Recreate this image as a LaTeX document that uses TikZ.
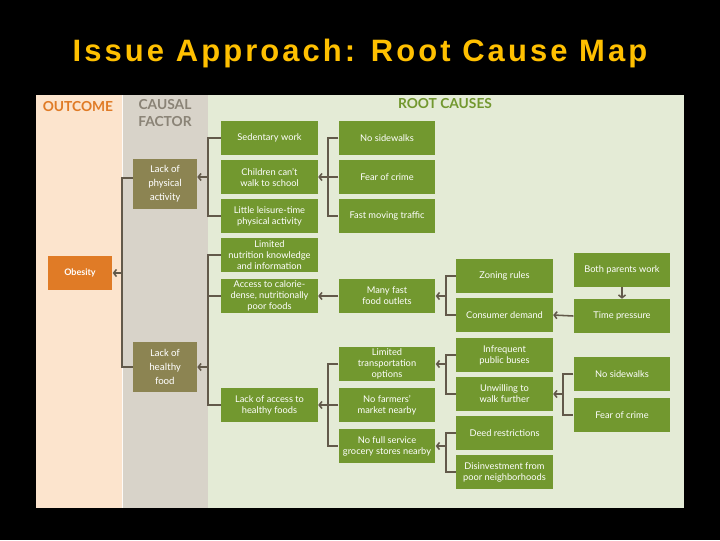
\documentclass[tikz,border=0pt]{standalone}
\usepackage{fontspec}
\setmainfont{Lato}
\newfontfamily\titlefont[LetterSpace=10]{Liberation Sans}
\newfontfamily\factorfont{Carlito}
\usetikzlibrary{arrows.meta, positioning}
\definecolor{cTitle}{HTML}{FFC000}
\definecolor{cPeach}{HTML}{FCE4CD}
\definecolor{cStone}{HTML}{D8D3C9}
\definecolor{cMint}{HTML}{E4EBD6}
\definecolor{cOrange}{HTML}{E07B26}
\definecolor{cGreyText}{HTML}{8A8376}
\definecolor{cLeaf}{HTML}{72982F}
\definecolor{cOlive}{HTML}{8C8452}
\definecolor{cLine}{HTML}{62594A}

\begin{document}
\begin{tikzpicture}[
    x=0.025cm, y=-0.025cm,
    % ---------------------------------------------------------
    % STYLES
    % ---------------------------------------------------------
    cause/.style={
        rectangle,
        fill=cLeaf,
        text=white,
        font=\fontsize{6.6}{7.8}\selectfont,
        align=center,
        minimum width=2.42cm,
        minimum height=0.85cm,
        inner sep=1pt
    },
    factor/.style={
        rectangle,
        fill=cOlive,
        text=white,
        font=\factorfont\fontsize{7.4}{10}\selectfont,
        align=center,
        minimum width=1.6cm,
        minimum height=1.27cm,
        inner sep=1pt
    },
    outcome/.style={
        rectangle,
        fill=cOrange,
        text=white,
        font=\bfseries\fontsize{6.4}{8}\selectfont,
        minimum width=1.62cm,
        minimum height=0.85cm
    },
    head/.style={
        text=#1,
        font=\bfseries\fontsize{9.8}{12.2}\selectfont,
        align=center,
        inner sep=0pt
    },
    link/.style={
        draw=cLine,
        line width=1.1pt
    },
    arr/.style={
        link,
        -{Straight Barb[length=2pt, width=5pt]}
    }
]

% ---------------------------------------------------------
% 1. BACKGROUND AND TITLE
% ---------------------------------------------------------
\fill[black] (0,0) rectangle (720,540);
\useasboundingbox (0,0) rectangle (720,540);
\fill[cPeach] (36,95) rectangle (122,508);
\fill[cStone] (122,95) rectangle (208,508);
\fill[cMint] (208,95) rectangle (684,508);
\draw[white!85!cPeach, line width=0.6pt] (122,95) -- (122,508);

\node[text=cTitle, font=\titlefont\bfseries\fontsize{22}{26}\selectfont] (title) at (360,53) {Issue Approach: Root Cause Map};

\node[head=cOrange] (hOut) at (78,107) {OUTCOME};
\node[head=cGreyText] (hFactor) at (165,113) {CAUSAL\\FACTOR};
\node[head=cLeaf] (hRoot) at (445,104) {ROOT CAUSES};

% ---------------------------------------------------------
% 2. COORDINATES (bracket spines)
% ---------------------------------------------------------
\coordinate (bObes) at (122,273);
\coordinate (bObesTop) at (122,178);
\coordinate (bPhys) at (208,177);
\coordinate (bHealthy) at (208,367);
\coordinate (bChild) at (328,177);
\coordinate (bAccess) at (328,405);
\coordinate (bFast) at (446,296);
\coordinate (bTransp) at (446,364);
\coordinate (bGrocery) at (446,446);
\coordinate (bWalk) at (563,394);

% ---------------------------------------------------------
% 3. NODES
% ---------------------------------------------------------
% Outcome and causal factors
\node[outcome] (obesity) at (80,273) {Obesity};
\node[factor] (phys) at (165,184) {Lack of\\physical\\activity};
\node[factor] (healthy) at (165,367) {Lack of\\healthy\\food};

% Root causes, first column
\node[cause] (sed) at (269.5,138) {Sedentary work};
\node[cause] (child) at (269.5,177) {Children can’t\\walk to school};
\node[cause] (leis) at (269.5,216) {Little leisure-time\\physical activity};
\node[cause] (nutri) at (269.5,255) {Limited\\nutrition knowledge\\and information};
\node[cause] (access) at (269.5,296) {Access to calorie-\\dense, nutritionally\\poor foods};
\node[cause] (lackacc) at (269.5,405) {Lack of access to\\healthy foods};

% Root causes, second column
\node[cause] (nosw) at (387,138) {No sidewalks};
\node[cause] (fear) at (387,177) {Fear of crime};
\node[cause] (traffic) at (387,216) {Fast moving traffic};
\node[cause] (fastfood) at (387,296) {Many fast\\food outlets};
\node[cause] (transp) at (387,364) {Limited\\transportation\\options};
\node[cause] (farmers) at (387,405) {No farmers’\\market nearby};
\node[cause] (grocery) at (387,446) {No full service\\grocery stores nearby};

% Root causes, third column
\node[cause] (zoning) at (504.5,276) {Zoning rules};
\node[cause] (demand) at (504.5,315) {Consumer demand};
\node[cause] (buses) at (504.5,355) {Infrequent\\public buses};
\node[cause] (unwill) at (504.5,394) {Unwilling to\\walk further};
\node[cause] (deed) at (504.5,433) {Deed restrictions};
\node[cause] (disinv) at (504.5,472) {Disinvestment from\\poor neighborhoods};

% Root causes, fourth column
\node[cause] (parents) at (622,270) {Both parents work};
\node[cause] (time) at (622,316) {Time pressure};
\node[cause] (nosw2) at (622,374) {No sidewalks};
\node[cause] (fear2) at (622,415) {Fear of crime};

% ---------------------------------------------------------
% 4. CONNECTORS
% ---------------------------------------------------------
% Into Obesity
\draw[link] (bObesTop -| phys.west) -- (bObesTop) |- (healthy.west);
\draw[arr] (bObes) -- (obesity.east);

% Into the causal factors
\draw[link] (sed.west) -| (bPhys) |- (leis.west);
\draw[arr] (bPhys) -- (bPhys -| phys.east);
\draw[link] (nutri.west) -| (bHealthy) |- (lackacc.west);
\draw[link] (access.west) -- (access.west -| bHealthy);
\draw[arr] (bHealthy) -- (healthy.east);

% Second column into first column
\draw[link] (nosw.west) -| (bChild) |- (traffic.west);
\draw[arr] (fear.west) -- (child.east);
\draw[arr] (fastfood.west) -- (access.east);
\draw[link] (transp.west) -| (bAccess) |- (grocery.west);
\draw[arr] (farmers.west) -- (lackacc.east);

% Third column into second column
\draw[link] (zoning.west) -| (bFast) |- (demand.west);
\draw[arr] (bFast) -- (fastfood.east);
\draw[link] (buses.west) -| (bTransp) |- (unwill.west);
\draw[arr] (bTransp) -- (transp.east);
\draw[link] (deed.west) -| (bGrocery) |- (disinv.west);
\draw[arr] (bGrocery) -- (grocery.east);

% Fourth column into third column
\draw[arr] (parents.south) -- (time.north);
\draw[arr] (time.west) -- (demand.east);
\draw[link] (nosw2.west) -| (bWalk) |- (fear2.west);
\draw[arr] (bWalk) -- (unwill.east);

\end{tikzpicture}
\end{document}
